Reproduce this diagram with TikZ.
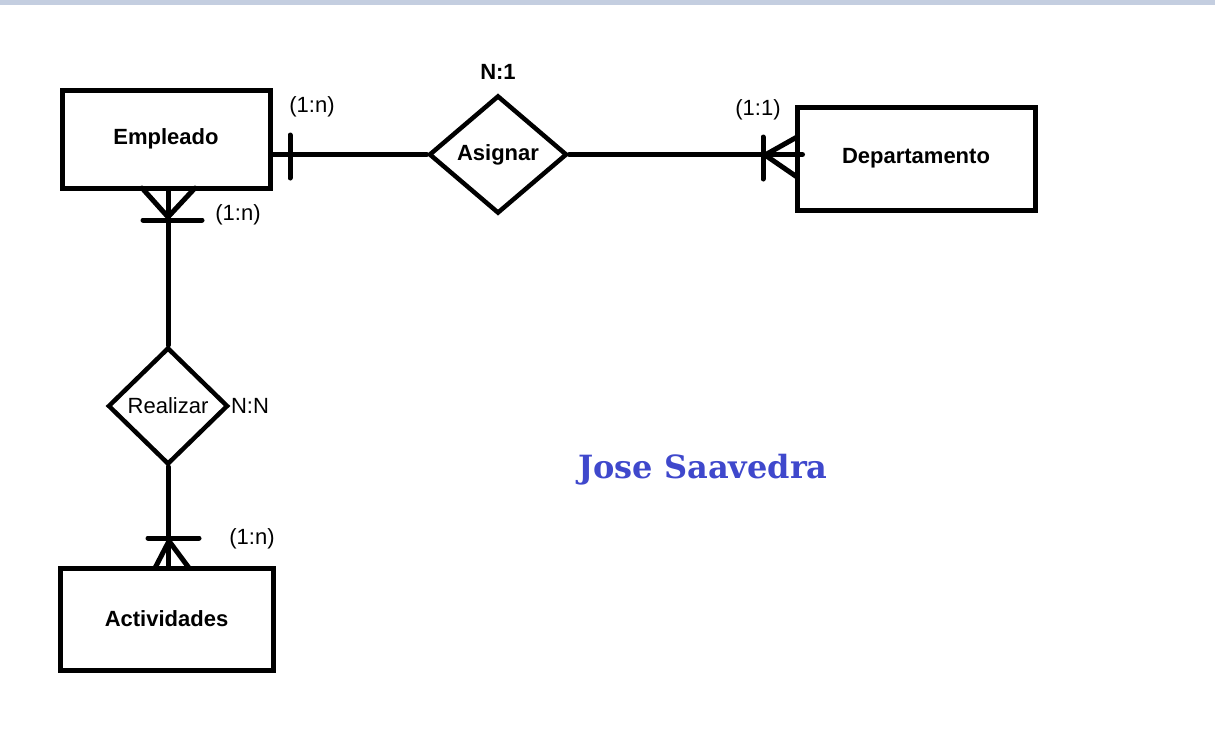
\documentclass[tikz,border=0pt]{standalone}
\usepackage{fontspec}
\setmainfont{Liberation Sans}
\newfontfamily\slabfont{DejaVu Serif}
\usepackage{tikz}
\usetikzlibrary{shapes,arrows}
\usetikzlibrary{calc}
\definecolor{barcol}{RGB}{196,206,224}
\definecolor{namecol}{RGB}{63,72,204}

\begin{document}
\begin{tikzpicture}[x=1pt,y=-1pt,
	line width=5pt,line cap=round,
	every node/.style={font=\fontsize{22}{26}\selectfont},
	entity/.style={draw,rectangle,line width=5pt,inner sep=0pt,font=\fontsize{22}{26}\selectfont\bfseries},
	relation/.style={draw,diamond,line width=4.5pt,inner sep=0pt}]
	\useasboundingbox (0,0) rectangle (1215,734);
	\fill[barcol] (0,0) rectangle (1215,5);
	
	\node[entity,minimum width=208pt,minimum height=98pt] (emp) at (166,139) {Empleado};
	\node[entity,minimum width=238pt,minimum height=103pt] (dep) at (916,158.5) {Departamento};
	\node[entity,minimum width=213pt,minimum height=102pt] (act) at (166.5,619) {Actividades};
	
	\node[relation,minimum width=138pt,minimum height=118pt,font=\fontsize{22}{26}\selectfont\bfseries] (asig) at (498,154.5) {Asignar};
	\node[relation,minimum width=120pt,minimum height=117pt] (real) at (168,406) {Realizar};
	
	\draw (asig.west) -- (asig.west -| emp.east);
	\draw (290,135) -- (290,178);
	
	\draw (asig.east) -- ($(asig.east -| dep.west)+(8,0)$);
	\draw (763,137) -- (763,179);
	\draw (797,137) -- (765,155) -- (797,177);
	
	\draw (real.north) -- (real.north |- emp.south);
	\draw (142,188) -- (168,217) -- (195,188);
	\draw (143,220) -- (202,220);
	
	\draw (real.south) -- (real.south |- act.north);
	\draw (148,538) -- (199,538);
	\draw (155,568) -- (169,541) -- (189,568);
	
	\node[font=\fontsize{22}{26}\selectfont\bfseries] (asigcard) at (498,72) {N:1};
	\node (realcard) at (250,406) {N:N};
	\node (empdep) at (312,107) {(1:n)};
	\node (depasig) at (758,110) {(1:1)};
	\node (empreal) at (238,215) {(1:n)};
	\node (actreal) at (252,539) {(1:n)};
	
	\node[text=namecol,font=\fontsize{32}{38}\selectfont\slabfont\bfseries] (autor) at (703,470) {Jose Saavedra};
\end{tikzpicture}
\end{document}
